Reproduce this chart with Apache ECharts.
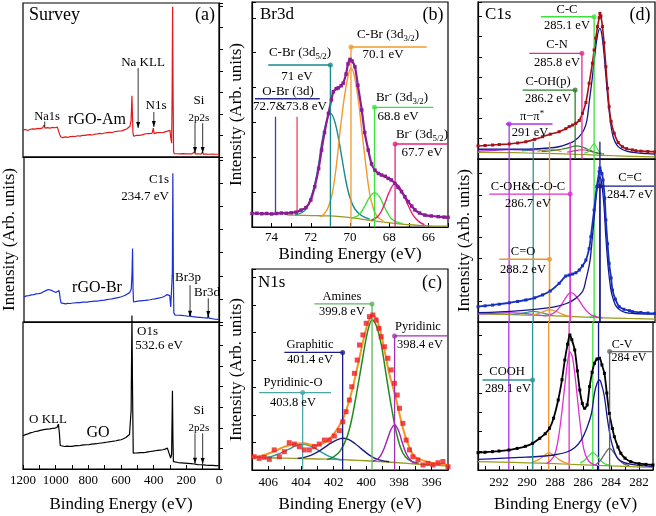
<!DOCTYPE html>
<html>
<head>
<meta charset="utf-8">
<script src="https://cdn.jsdelivr.net/npm/echarts@6/dist/echarts.min.js"></script>
<style>html,body{margin:0;padding:0;background:#fff}#chart{width:656px;height:516px}</style>
</head>
<body>
<div id="chart"></div>
<script>
// ---------- (a) survey spectra, [binding energy, intensity 0-100 of its own strip] ----------
var surveyAm = [[1200,17.5],[1185,17.9],[1170,17.2],[1155,18.0],[1140,18.3],[1125,18.1],[1110,18.6],[1095,18.4],[1080,18.9],[1072,20.6],[1065,18.8],[1050,19.1],[1035,18.7],[1020,19.2],[1005,19.0],[990,19.4],[980,18.6],[975,14.5],[968,13.0],[955,12.6],[940,13.1],[925,12.8],[910,13.2],[895,13.4],[880,13.3],[865,13.8],[850,13.6],[835,14.1],[820,14.0],[805,14.4],[790,14.5],[775,14.3],[760,14.9],[745,15.0],[730,15.3],[715,15.1],[700,15.6],[685,15.8],[670,16.0],[655,15.9],[640,16.4],[625,16.6],[610,16.9],[595,17.0],[580,17.6],[565,18.2],[555,18.8],[545,20.0],[538,24],[533,39.8],[530,28],[527,16],[523,13.5],[515,13.8],[505,14.0],[497,14.5],[490,14.1],[480,14.6],[470,14.4],[460,14.9],[450,15.1],[440,14.8],[430,15.2],[420,15.1],[410,15.3],[402,18.8],[397,15.2],[390,15.3],[380,15.8],[370,15.6],[360,15.9],[350,16.1],[340,16.0],[330,16.4],[320,16.6],[310,16.9],[300,17.3],[295,12],[290,9],[287,40],[284,97.6],[281,40],[278,3.5],[274,2.2],[260,2.1],[240,2.0],[220,2.2],[200,2.0],[180,2.1],[165,2.0],[150,3.4],[146,2.0],[130,2.1],[110,1.9],[101,3.2],[96,1.9],[80,1.9],[60,1.8],[40,1.9],[20,1.8],[0,1.8]];
var surveyBr = [[1200,15.2],[1185,15.8],[1170,16.0],[1155,16.4],[1140,16.6],[1125,17.0],[1110,17.2],[1095,17.5],[1080,18.3],[1065,19.0],[1050,19.7],[1035,19.3],[1020,18.6],[1005,17.9],[993,17.6],[984,19.0],[977,14],[972,11.6],[960,11.2],[945,11.0],[930,11.3],[915,11.2],[900,11.5],[885,11.6],[870,11.8],[855,11.7],[840,12.0],[825,12.1],[810,12.0],[795,12.4],[780,12.5],[765,12.7],[750,12.6],[735,12.9],[720,13.1],[705,13.3],[690,13.6],[675,13.8],[660,14.0],[645,14.3],[630,14.6],[615,14.9],[600,15.3],[585,15.9],[570,16.6],[560,17.2],[550,17.8],[540,20],[535,30],[532,44.6],[529,20],[526,12.1],[515,12.3],[500,12.6],[485,12.8],[470,13.0],[455,13.1],[440,13.3],[425,13.5],[410,13.8],[395,14.0],[380,14.3],[365,14.6],[350,15.0],[335,15.6],[320,16.6],[310,17.5],[303,16.0],[297,9.1],[291,9.5],[287,30],[284,90.1],[281,30],[278,5.5],[270,4.2],[250,4.1],[230,4.0],[210,3.8],[195,3.6],[182,3.5],[177,5.3],[173,3.4],[160,3.2],[140,3.0],[120,2.8],[100,2.6],[85,2.5],[70,2.4],[66,4.8],[62,2.3],[50,2.0],[30,1.8],[0,1.6]];
var surveyGO = [[1200,22.6],[1185,23.4],[1170,23.9],[1155,24.6],[1140,25.0],[1125,25.5],[1110,25.8],[1095,26.3],[1080,26.6],[1065,26.9],[1050,27.1],[1035,27.3],[1020,27.6],[1005,27.8],[992,28.2],[983,30.5],[977,24],[972,16.0],[960,15.5],[945,15.3],[930,15.5],[915,15.4],[900,15.4],[885,15.7],[870,15.9],[855,15.8],[840,16.2],[825,16.4],[810,16.5],[795,16.6],[780,16.9],[765,17.1],[750,17.2],[735,17.5],[720,17.7],[705,17.9],[690,18.2],[675,18.4],[660,18.7],[645,18.9],[630,19.2],[615,19.6],[600,19.9],[585,20.6],[570,21.4],[560,22.1],[548,23.5],[538,40],[533,104.5],[529,50],[525,10.8],[510,10.9],[495,11.0],[480,11.1],[465,11.2],[450,11.3],[435,11.6],[420,11.9],[405,12.1],[390,12.4],[375,12.7],[360,12.9],[345,13.1],[330,13.5],[316,14.2],[304,13.0],[296,7.5],[290,10],[285,53.3],[282,20],[279,5.0],[270,4.6],[250,4.4],[230,4.2],[210,4.0],[190,3.8],[170,3.6],[152,3.4],[148,4.4],[144,3.3],[130,3.0],[110,2.9],[101,3.6],[97,2.8],[80,2.6],[60,2.5],[40,2.4],[20,2.3],[0,2.2]];
// arrows [BE, top, bottom] per strip
var arrowsAm = [[495,57.8,18.8],[399,29.2,19.5],[147,22,2.6],[100,22,2.6]];
var arrowsBr = [[178,22.3,3.2],[66,14.4,3]];
var arrowsGO = [[147,24.3,3.6],[100,24.3,3.4]];

// ---------- (b) Br3d ----------
var brData = [[75,6.0],[74.75,6.1],[74.5,5.9],[74.25,6.0],[74,5.8],[73.75,6.0],[73.5,6.2],[73.25,6.1],[73,6.3],[72.75,6.6],[72.5,7.5],[72.25,8.6],[72,12],[71.8,17.9],[71.6,26],[71.45,34.2],[71.3,42],[71.1,50.5],[70.95,56.5],[70.85,60.1],[70.7,61.5],[70.6,61.8],[70.45,62.8],[70.35,63.9],[70.2,68],[70.1,72.5],[70.0,74.5],[69.9,73.8],[69.75,71.2],[69.6,63],[69.4,52],[69.25,42],[69.07,34.2],[68.9,28],[68.73,25.3],[68.55,23.8],[68.39,23.1],[68.2,22.5],[68.05,21.6],[67.9,20.9],[67.71,19.4],[67.55,17.6],[67.37,15.7],[67.2,13.4],[67.03,11.3],[66.85,9.3],[66.69,7.6],[66.45,6.2],[66.18,5.3],[65.85,4.9],[65.5,4.6],[65.2,4.4],[65,4.3]];
var brBg = [[73.2,5.3],[72.5,5.2],[72,5.1],[71.5,5.0],[71,4.9],[70.5,4.6],[70,4.2],[69.5,3.6],[69,3.0],[68.5,2.4],[68,1.9],[67.5,1.4],[67,1.0],[66.5,0.7],[66,0.5],[65.5,0.4],[65,0.4]];
var brCBr52 = [[72.8,5.3],[72.3,7.4],[72.0,13],[71.8,19],[71.6,28],[71.45,37],[71.2,47],[71.0,50.5],[70.8,47.5],[70.6,40],[70.4,30],[70.2,20],[70.0,13],[69.75,8],[69.4,5],[69.0,3.5]];
var brCBr32 = [[71.5,4.5],[71.3,6],[71.1,9],[70.9,15],[70.7,27],[70.5,43],[70.3,57],[70.1,67],[69.95,70.5],[69.8,68],[69.6,58],[69.4,43],[69.2,28],[69.0,15],[68.8,8],[68.6,4.5],[68.3,2.8]];
var brIon32 = [[69.9,4],[69.6,5],[69.4,7],[69.2,10],[69.0,13.3],[68.75,15.3],[68.5,13.5],[68.3,10],[68.1,6.5],[67.9,3.8],[67.6,2.2],[67.3,1.5]];
var brIon52 = [[68.9,3],[68.6,4.5],[68.4,7],[68.2,11],[68.0,15.5],[67.7,19.4],[67.45,17.5],[67.2,13],[67.0,9],[66.8,5.5],[66.5,2.5],[66.2,1]];
// markers: [peak, label level, bar start, bar end]
var brMarks = [[71.0,72,74.17,71.0],[69.95,80,69.95,66.09],[68.75,53.2,68.75,65.75],[67.7,36.9,67.7,65.02]];
var brOBr = [73.8,72.7];
var brOBrBar = [74.85,71.54,57];

// ---------- (c) N1s ----------
var n1sData = [[406.87,6.6],[406.56,5.8],[406.25,6.3],[405.94,5.3],[405.64,10],[405.33,6.6],[405.02,9.1],[404.72,13.6],[404.41,12.9],[404.1,11.6],[403.8,10],[403.49,10],[403.18,11.6],[402.88,12.9],[402.57,14.9],[402.26,14.9],[401.96,16.9],[401.65,19.6],[401.44,24],[401.24,29],[401.04,34.8],[400.89,41.4],[400.73,48.1],[400.56,54.7],[400.42,62.2],[400.21,67.2],[400.01,73],[399.81,76.3],[399.6,77.1],[399.4,74.6],[399.23,70.5],[399.09,66.3],[398.89,61.3],[398.68,55.6],[398.48,49.8],[398.28,43.1],[398.11,37.3],[397.97,30.7],[397.76,23.2],[397.56,14.9],[397.36,10],[397.15,6.6],[396.84,5],[396.53,2.5],[396.23,3.3],[395.92,2.5],[395.61,3.6],[395.31,4.2],[395.0,1.6]];
var n1sFit = [[407,6.3],[406.6,6.8],[406.2,7.6],[405.8,8.8],[405.4,10.2],[405,11.6],[404.6,12.6],[404.2,13.2],[403.8,13.3],[403.4,12.6],[403,12.3],[402.6,13.5],[402.3,15.3],[402,17.8],[401.7,21.5],[401.4,26],[401.1,33],[400.8,42],[400.5,53],[400.2,64],[399.95,72],[399.75,76],[399.6,77],[399.4,75.5],[399.2,71],[399,64],[398.8,56],[398.6,48],[398.4,42],[398.2,36],[398,29],[397.8,22],[397.6,16.5],[397.4,12],[397.2,8.5],[397,6.5],[396.8,5.5],[396.4,4.4],[396,3.6],[395.5,3.0],[395,2.6]];
var n1sBg = [[407,6.3],[406,6.1],[405,5.9],[404,5.7],[403,5.5],[402,5.3],[401,5.0],[400,4.6],[399,4.1],[398,3.6],[397,3.0],[396,2.5],[395,2.0]];
var n1sPyrO = [[406.2,6.3],[405.8,6.8],[405.4,7.9],[405,9.3],[404.6,10.9],[404.2,12.5],[403.9,12.8],[403.5,12.1],[403.1,10.6],[402.7,8.6],[402.3,6.9],[401.9,5.6],[401.5,5.0]];
var n1sGraph = [[404.2,5.8],[403.8,6.3],[403.4,7.3],[403.0,8.9],[402.6,11],[402.2,13.2],[401.8,15],[401.45,15.8],[401.1,15.2],[400.7,13.2],[400.3,10.5],[399.9,7.9],[399.5,5.9],[399.1,4.8],[398.6,4.1]];
var n1sAmine = [[402.4,5.2],[402.0,6.5],[401.6,9.5],[401.2,16],[400.9,25],[400.6,38],[400.3,52],[400.0,66],[399.8,72.5],[399.65,74.6],[399.4,72],[399.1,63],[398.8,48],[398.5,33],[398.2,20],[397.9,11],[397.6,6.5],[397.2,4.2],[396.8,3.4]];
var n1sPyr = [[399.6,4.5],[399.3,5.5],[399.1,7.5],[398.9,11],[398.7,15.5],[398.5,20],[398.27,22.4],[398.05,20],[397.85,15],[397.65,10],[397.45,6.5],[397.2,4.2],[396.9,3.3]];
var n1sMarks = [[403.9,38.5,406.56,402.16],[401.45,58.5,405.02,401.45],[399.65,82.6,403.18,399.65],[398.27,66.7,398.27,395.0]];

// ---------- (d) C1s, three strips ----------
var c1sAm = [[293.5,8.3],[293,8.6],[292.47,8.9],[292,9.2],[291.29,9.6],[290.7,10.2],[290.12,11],[289.5,12.5],[288.94,14.2],[288.4,15.8],[287.77,17.4],[287.3,19.3],[287.06,20.6],[286.83,21.6],[286.59,22.7],[286.35,24.5],[286.12,29.1],[285.88,36],[285.65,48.2],[285.42,61],[285.3,69.4],[285.18,77],[285.06,84.3],[284.94,90],[284.89,92.8],[284.82,91],[284.71,84.3],[284.6,74],[284.47,58.8],[284.35,45],[284.24,33.3],[284.1,24],[283.88,16.4],[283.6,10.5],[283.3,7.8],[283,6.6],[282.6,5.8],[282.35,5.3],[282,5.0],[281.5,4.8],[281,4.6]];
var amCC2 = [[293.5,6.2],[291,6.3],[289.5,6.5],[288.5,7],[287.8,7.8],[287.2,9.5],[286.7,11.5],[286.35,14.2],[286,19],[285.8,25],[285.65,36],[285.45,50],[285.25,66],[285.08,78],[284.89,83.2],[284.75,79],[284.6,67],[284.45,51],[284.3,36],[284.12,22],[283.95,14],[283.7,9],[283.4,6.5],[283,5],[282.4,4],[281.5,3.4],[281,3.2]];
var amBg = [[293.5,4.2],[291,4.0],[289,3.6],[287,3.1],[285.5,2.6],[284,2.1],[282.5,1.7],[281,1.4]];
var amCC = [[286,3.8],[285.75,4.5],[285.55,7],[285.3,9.6],[285.1,7],[284.9,4.2],[284.6,3.2]];
var amCOH = [[289,4.8],[288.3,5.3],[287.6,6.2],[287,7.4],[286.6,8.3],[286.2,7.8],[285.8,6.4],[285.4,4.8],[285,3.7],[284.6,3.1]];
var amCN = [[287.2,4.4],[286.8,5],[286.4,5.7],[286.1,5.9],[285.8,5.5],[285.4,4.5],[285,3.5]];
var amCO = [[289.3,4.8],[288.9,5.5],[288.45,6.2],[288,5.6],[287.6,4.7]];
var amCOOH = [[290.4,5.2],[289.9,5.8],[289.55,6.1],[289.2,5.8],[288.7,5.0]];
var amPi = [[293.5,5.0],[292,5.6],[291.3,6.0],[290.5,5.8],[289.5,5.2]];

var c1sBr = [[293.5,9.4],[293,9.9],[292.47,10.4],[292,10.9],[291.29,11.8],[290.7,12.6],[290.12,13.5],[289.5,14.8],[288.94,16.6],[288.4,19],[287.77,23.7],[287.3,28.2],[287.06,28.8],[286.83,29.4],[286.59,30.2],[286.35,31.9],[286.12,34.5],[285.88,38],[285.65,45],[285.53,52.3],[285.3,68.7],[285.11,83],[284.94,92.2],[284.89,94.5],[284.75,91],[284.67,87.1],[284.55,76],[284.47,62.6],[284.35,48],[284.24,36],[284.1,27],[284,19.6],[283.8,14],[283.53,9.4],[283.2,7.8],[282.8,6.9],[282.59,6.3],[282,5.8],[281.5,5.5],[281,5.3]];
var brCC2 = [[293.5,5.7],[292,6.2],[290.5,7],[289,8.2],[288,9.5],[287.2,11.5],[286.6,14.5],[286.1,19],[285.88,25.8],[285.6,37],[285.42,52.3],[285.25,68],[285.08,82],[284.89,89],[284.75,84],[284.6,71],[284.47,52],[284.3,33],[284.12,20],[284.0,15.5],[283.8,10.5],[283.5,7.5],[283.06,5.7],[282.5,5.2],[281,4.9]];
var brCOC = [[288.8,3.6],[288.4,4.5],[288,6.5],[287.7,9.5],[287.4,13.5],[287.15,16.8],[286.94,18],[286.7,17],[286.4,13.8],[286.1,9.8],[285.8,6.5],[285.5,4.3],[285.1,3],[284.7,2.5]];
var brCO = [[289.7,4.2],[289.3,5],[288.9,6.4],[288.45,7.4],[288,6.6],[287.6,5],[287.2,3.8],[286.8,3.1]];
var brCOOH = [[291,4.6],[290.5,5.2],[290,6],[289.6,6.5],[289.2,6.1],[288.7,5],[288.2,4]];
var brPi = [[293.5,5.0],[292.5,5.3],[291.5,5.6],[291,5.6],[290.3,5.3],[289.5,4.6],[288.8,3.8]];
var brCC = [[285.8,2.6],[285.5,3.3],[285.3,4.2],[285.1,3.3],[284.8,2.4]];
var brC1sBg = [[293.5,4.9],[291,4.5],[289,4.0],[287,3.4],[285,2.7],[283,2.2],[281,1.8]];

var c1sGO = [[293.5,11.7],[293,12],[292.47,12.4],[292,12.8],[291.29,13.5],[290.7,14.6],[290.12,16],[289.6,18],[289.09,21.4],[288.7,24.5],[288.39,28.2],[288.1,35],[287.77,47.3],[287.5,61],[287.3,74.3],[287.1,85],[286.94,91.2],[286.8,88],[286.59,81.1],[286.4,67],[286.23,54],[286.05,45],[285.88,41.7],[285.7,44],[285.53,56.3],[285.35,66],[285.18,72.1],[285.0,75],[284.82,75.5],[284.65,71],[284.47,65.3],[284.3,52],[284.12,38.3],[283.9,28],[283.76,22.5],[283.5,15.5],[283.3,11.3],[283,8],[282.59,5.6],[282,4.3],[281.5,3.8],[281,3.4]];
var goCOC = [[288.6,4.5],[288.3,6.5],[288,11],[287.75,22],[287.5,40],[287.3,57],[287.1,73],[286.94,80],[286.75,76],[286.55,62],[286.35,44],[286.15,27],[285.95,14.5],[285.7,7.5],[285.4,4.5],[285,3]];
var goCC2 = [[293.5,7.2],[292,7.8],[290.5,8.5],[289,9.3],[288,10.3],[287.2,12],[286.6,15],[286.12,20.3],[285.7,29],[285.4,38],[285.18,52],[285.0,58.5],[284.82,60.8],[284.65,57],[284.47,49.5],[284.25,34],[284.0,20.3],[283.76,12.5],[283.53,7.9],[283.1,5.2],[282.5,3.8],[282,3.1],[281,2.3]];
var goCO = [[289.6,5.3],[289.2,6.8],[288.8,9.5],[288.45,11.7],[288.1,10],[287.7,7],[287.3,5],[286.9,4.2]];
var goCC = [[286.2,4.8],[285.9,6.5],[285.6,9.5],[285.3,11.7],[285.0,9.5],[284.7,6],[284.4,4],[284.1,3.3]];
var goCV = [[285.1,3.5],[284.8,6],[284.5,10],[284.1,14.6],[283.7,10.5],[283.4,6.5],[283.06,4],[282.7,3]];
var goBg = [[293.5,5.6],[291,5.1],[289,4.6],[287,3.9],[285,3.1],[283,2.4],[281,1.8]];

// C1s markers [peak, level, bar start, bar end]
var amMarks = [[285.3,90.6,289.06,285.3],[286.16,67.3,289.88,286.16],[286.64,43.9,290.35,286.64],[291.3,22.3,291.53,288.24]];
var brMarksC = [[284.89,83.4,284.89,281.06],[286.99,78.5,292.7,286.99],[288.45,38.5,292.0,288.45]];
var goMarks = [[289.6,60.8,293.18,289.6],[284.1,80,284.1,281.06]];
var c1sLines = [291.3,289.6,288.45,286.99,285.3,284.89];

// ---------------------------------------------------------------
var FONT = "'Liberation Serif', 'Times New Roman', serif";
var chart = echarts.init(document.getElementById('chart'));

var grids = [
  {left:23, top:3, width:196, height:154},
  {left:23, top:157, width:196, height:165},
  {left:23, top:322, width:196, height:147},
  {left:252, top:2, width:196, height:225},
  {left:252, top:269, width:196, height:201},
  {left:478, top:2, width:177, height:157},
  {left:478, top:159, width:177, height:163},
  {left:478, top:322, width:177, height:148}
];
grids.forEach(function (g) { g.show = true; g.borderColor = '#000'; g.borderWidth = 1.2; g.containLabel = false; });

function xAx(g, min, max, step, lab, bottom, margin, nameGap) {
  return {
    gridIndex: g, type: 'value', inverse: true, min: min, max: max, interval: step,
    axisLine: {show: true, lineStyle: {color: '#000', width: 1.2}},
    axisTick: {show: bottom, inside: true, length: 4, lineStyle: {color: '#000'}},
    axisLabel: {show: bottom, margin: margin, fontFamily: FONT, fontSize: 13, color: '#000',
      formatter: function (v) { return Math.abs(v % lab) < 1e-6 ? String(Math.round(v)) : ''; }},
    splitLine: {show: false},
    name: bottom ? 'Binding Energy (eV)' : '', nameLocation: 'middle', nameGap: nameGap,
    nameTextStyle: {fontFamily: FONT, fontSize: 17, color: '#000'}
  };
}
function yAx(g, step, name, gap) {
  return {
    gridIndex: g, type: 'value', min: 0, max: 100, interval: step,
    axisLine: {show: true, lineStyle: {color: '#000', width: 1.2}},
    axisTick: {show: true, inside: true, length: 4, lineStyle: {color: '#000'}},
    axisLabel: {show: false}, splitLine: {show: false},
    name: name ? 'Intensity (Arb. units)' : '', nameLocation: 'middle', nameGap: gap,
    nameTextStyle: {fontFamily: FONT, fontSize: 17, color: '#000'}
  };
}

var xAxes = [
  xAx(0, 0, 1200, 100, 200, false), xAx(1, 0, 1200, 100, 200, false), xAx(2, 0, 1200, 100, 200, true, 5, 27),
  xAx(3, 65, 75, 1, 2, true, 4, 19), xAx(4, 395, 407, 1, 2, true, 6, 26),
  xAx(5, 281, 293.5, 1, 2, false), xAx(6, 281, 293.5, 1, 2, false), xAx(7, 281, 293.5, 1, 2, true, 6, 26)
];
var yAxes = [
  yAx(0, 14), yAx(1, 14, true, 6), yAx(2, 14),
  yAx(3, 15.5, true, 7), yAx(4, 13.7, true, 7),
  yAx(5, 13), yAx(6, 13, true, 5), yAx(7, 13)
];

var series = [];
function line(g, data, color, width, extra) {
  var s = {type: 'line', xAxisIndex: g, yAxisIndex: g, data: data, symbol: 'none', showSymbol: false,
    lineStyle: {color: color, width: width}, itemStyle: {color: color}, silent: true, animation: false, z: 3};
  for (var k in extra) s[k] = extra[k];
  series.push(s);
}
function fit(g, data, color, width) { line(g, data, color, width || 1.3, {smooth: 0.35}); }
function dots(g, pts, color, size, symbol) {
  series.push({type: 'scatter', xAxisIndex: g, yAxisIndex: g, data: pts, symbol: symbol || 'circle',
    symbolSize: size, itemStyle: {color: color}, silent: true, animation: false, z: 5});
}
function marks(g, list, colors) {
  list.forEach(function (m, i) {
    line(g, [[m[2], m[1]], [m[3], m[1]]], colors[i], 1.3);
    line(g, [[m[0], m[1]], [m[0], 0]], colors[i], 1.3);
    dots(g, [[m[0], m[1]]], colors[i], 5);
  });
}
function arrows(g, list, color) {
  list.forEach(function (a) {
    line(g, [[a[0], a[1]], {value: [a[0], a[2]], symbol: 'triangle', symbolRotate: 180, symbolSize: [4, 6], symbolOffset: [0, -3]}],
      color, 0.8, {showSymbol: true});
  });
}

// (a)
line(0, surveyAm, '#e31a1c', 1.2);
line(1, surveyBr, '#1b2fd6', 1.2);
line(2, surveyGO, '#000', 1.2, {clip: false, z: 4});
arrows(0, arrowsAm, '#000');
line(0, [[1067, 23], [1067, 19.7]], '#000', 0.8);
arrows(1, arrowsBr, '#000');
arrows(2, arrowsGO, '#000');

// (b)
fit(3, brBg, '#9a9a22', 1.3);
fit(3, brCBr52, '#168a8c', 1.4);
fit(3, brCBr32, '#f5982a', 1.4);
fit(3, brIon32, '#3be03b', 1.4);
fit(3, brIon52, '#e8207a', 1.4);
line(3, brData, '#8a1c96', 2.2, {showSymbol: true, symbol: 'rect', symbolSize: 3.5, smooth: 0.3});
marks(3, brMarks, ['#168a8c', '#f5982a', '#3be03b', '#e8207a']);
line(3, [[brOBrBar[0], brOBrBar[2]], [brOBrBar[1], brOBrBar[2]]], '#2c2c90', 1.3);
line(3, [[brOBr[0], 49], [brOBr[0], 6]], '#3c3cc0', 1.3);
line(3, [[brOBr[1], 49], [brOBr[1], 6]], '#ee4455', 1.3);

// (c)
fit(4, n1sBg, '#9a9a22', 1.4);
fit(4, n1sPyrO, '#2a9a9a', 1.4);
fit(4, n1sGraph, '#1c1c80', 1.4);
fit(4, n1sAmine, '#208a20', 1.5);
fit(4, n1sPyr, '#a020b0', 1.4);
fit(4, n1sFit, '#f7941d', 2);
dots(4, n1sData, '#ee1c24', 5, 'rect');
marks(4, n1sMarks, ['#4aa5a5', '#1c1c80', '#5cb85c', '#a030b0']);

// (d) top
fit(5, amBg, '#9a9a22', 1.2);
fit(5, amPi, '#b030f0', 1.2);
fit(5, amCOOH, '#2a9595', 1.2);
fit(5, amCO, '#f0962a', 1.2);
fit(5, amCN, '#e02c9a', 1.2);
fit(5, amCOH, '#2f7f2f', 1.2);
fit(5, amCC, '#3ee03e', 1.2);
fit(5, amCC2, '#151590', 1.3);
line(5, c1sAm, '#a50f15', 1.6, {showSymbol: true, symbol: 'rect', symbolSize: 3, smooth: 0.3});
marks(5, amMarks, ['#3ee03e', '#e02c9a', '#2f7f2f', '#b030f0']);
[[289.6, '#2a9595'], [288.45, '#f0962a'], [286.99, '#e030d0'], [284.89, '#151590']].forEach(function (v) {
  line(5, [[v[0], 11], [v[0], 0]], v[1], 1.3);
});
// (d) middle + bottom full-height guide lines
var guideColors = ['#b030f0', '#2a9595', '#f0962a', '#e030d0', '#3ee03e', '#151590'];
[6, 7].forEach(function (g) {
  c1sLines.forEach(function (x, i) { line(g, [[x, 0], [x, 100]], guideColors[i], 1.3, {z: 2}); });
});
fit(6, brC1sBg, '#9a9a22', 1.2);
fit(6, brPi, '#b030f0', 1.2);
fit(6, brCOOH, '#2a9595', 1.2);
fit(6, brCO, '#f0962a', 1.2);
fit(6, brCC, '#3ee03e', 1.2);
fit(6, brCOC, '#e030d0', 1.3);
fit(6, brCC2, '#151590', 1.3);
line(6, c1sBr, '#1530c0', 1.8, {showSymbol: true, symbol: 'rect', symbolSize: 3, smooth: 0.3});
marks(6, brMarksC, ['#151590', '#e030d0', '#f0962a']);

fit(7, goBg, '#9a9a22', 1.2);
fit(7, goCO, '#f0962a', 1.3);
fit(7, goCC, '#3ee03e', 1.3);
fit(7, goCV, '#666', 1.3);
fit(7, goCOC, '#e030d0', 1.3);
fit(7, goCC2, '#151590', 1.3);
line(7, c1sGO, '#000', 1.8, {showSymbol: true, symbol: 'rect', symbolSize: 3, smooth: 0.3});
marks(7, goMarks, ['#2a9595', '#666']);

// ---------- text annotations ----------
var graphics = [];
function T(x, y, text, size, align) {
  graphics.push({type: 'text', x: x, y: y, silent: true, z: 10, style: {
    text: text, fill: '#000', fontFamily: FONT, fontSize: size, align: align || 'center', verticalAlign: 'middle',
    rich: {
      n: {fontFamily: FONT, fontSize: size, lineHeight: size + 3},
      s: {fontFamily: FONT, fontSize: size * 0.68, verticalAlign: 'bottom', lineHeight: size + 3},
      u: {fontFamily: FONT, fontSize: size * 0.7, verticalAlign: 'top', lineHeight: size + 3}
    }
  }});
}
// (a)
T(29, 15, 'Survey', 18, 'left'); T(205, 15, '(a)', 18);
T(47, 117, 'Na1s', 12.5); T(97, 120, 'rGO-Am', 16);
T(143, 63, 'Na KLL', 13); T(156, 106, 'N1s', 13);
T(199, 101, 'Si', 13); T(199, 118, '2p2s', 11);
T(159, 180, 'C1s', 13); T(145, 197, '234.7 eV', 13);
T(97, 288, 'rGO-Br', 16); T(188, 278, 'Br3p', 13); T(207, 293, 'Br3d', 13);
T(137, 332, 'O1s', 13, 'left'); T(159, 346, '532.6 eV', 13);
T(48, 420, 'O KLL', 13); T(98, 433, 'GO', 16);
T(199, 411, 'Si', 13); T(199, 428, '2p2s', 11);
// (b)
T(260, 15, 'Br3d', 17, 'left'); T(433, 15, '(b)', 18);
T(300, 53, '{n|C-Br (3d}{s|5/2}{n|)}', 13); T(297, 77, '71 eV', 13);
T(288, 92, 'O-Br (3d)', 13); T(290, 107, '72.7&73.8 eV', 13);
T(388, 35, '{n|C-Br (3d}{s|3/2}{n|)}', 13); T(383, 55, '70.1 eV', 13);
T(402, 98, '{n|Br}{u|-}{n| (3d}{s|3/2}{n|)}', 13); T(398, 117, '68.8 eV', 13);
T(422, 135, '{n|Br}{u|-}{n| (3d}{s|5/2}{n|)}', 13); T(422, 153, '67.7 eV', 13);
// (c)
T(258, 283, 'N1s', 17, 'left'); T(432, 283, '(c)', 18);
T(342, 297, 'Amines', 12.5); T(342, 311.5, '399.8 eV', 12.5);
T(310, 345, 'Graphitic', 12.5); T(310, 360, '401.4 eV', 12.5);
T(418, 327, 'Pyridinic', 12.5); T(420, 345, '398.4 eV', 12.5);
T(293, 383, 'Pyridinic-O', 12.5); T(293, 403, '403.8 eV', 12.5);
// (d)
T(485, 15, 'C1s', 17, 'left'); T(640, 15, '(d)', 18);
T(567, 9.5, 'C-C', 12.5); T(567, 26, '285.1 eV', 12.5);
T(557, 45, 'C-N', 12.5); T(557, 63, '285.8 eV', 12.5);
T(548, 82, 'C-OH(p)', 12.5); T(548, 98.5, '286.2 eV', 12.5);
T(532, 117, '{n|π−π}{u|*}', 12.5); T(530, 133, '291 eV', 12.5);
T(630, 178, 'C=C', 12.5); T(630, 195, '284.7 eV', 12.5);
T(528, 187, 'C-OH&C-O-C', 12.5); T(528, 203.5, '286.7 eV', 12.5);
T(523, 252, 'C=O', 12.5); T(523, 269.5, '288.2 eV', 12.5);
T(507, 372, 'COOH', 12.5); T(508, 388.5, '289.1 eV', 12.5);
T(622, 345, 'C-V', 12); T(629, 358, '284 eV', 12);

chart.setOption({
  backgroundColor: '#fff',
  animation: false,
  textStyle: {fontFamily: FONT},
  grid: grids,
  xAxis: xAxes,
  yAxis: yAxes,
  series: series,
  graphic: graphics
});
</script>
</body>
</html>
